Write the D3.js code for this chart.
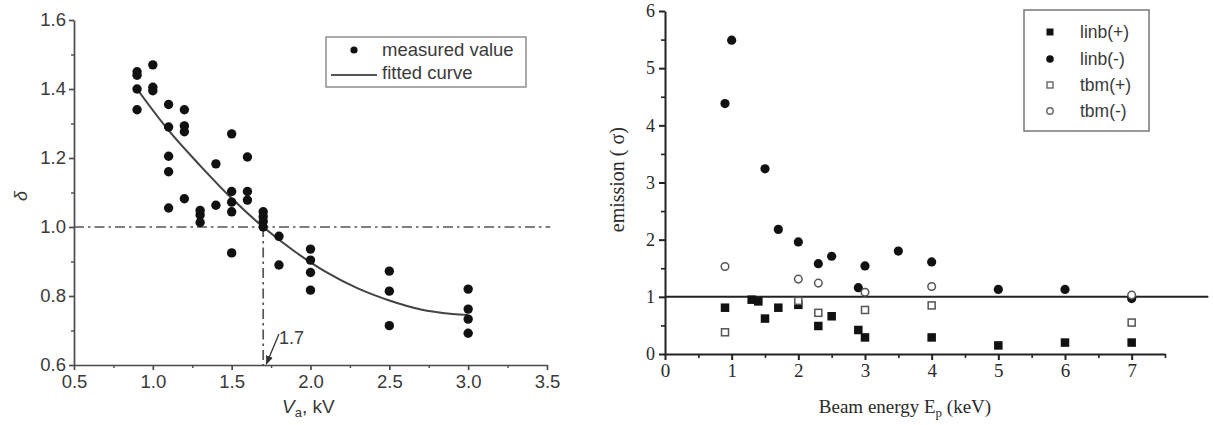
<!DOCTYPE html>
<html>
<head>
<meta charset="utf-8">
<script src="https://cdn.jsdelivr.net/npm/d3@7"></script>
<style>
  body { margin: 0; background: #fff; }
  svg { display: block; }
</style>
</head>
<body>
<svg id="fig" width="1213" height="425"></svg>
<script>
// ---------- Left panel: secondary emission yield vs. accelerating voltage ----------
const measuredVa = [0.9,0.9,0.9,0.9, 1.0,1.0,1.0, 1.1,1.1,1.1,1.1,1.1, 1.2,1.2,1.2,1.2,
  1.3,1.3,1.3, 1.4,1.4, 1.5,1.5,1.5,1.5,1.5, 1.6,1.6,1.6, 1.7,1.7,1.7,1.7, 1.8,1.8,
  2.0,2.0,2.0,2.0, 2.5,2.5,2.5, 3.0,3.0,3.0,3.0];
const measuredDelta = [1.45,1.44,1.40,1.34, 1.47,1.405,1.395, 1.355,1.29,1.205,1.16,1.055,
  1.34,1.293,1.276,1.082, 1.048,1.035,1.013, 1.183,1.063, 1.27,1.103,1.072,1.044,0.925,
  1.203,1.103,1.078, 1.044,1.03,1.016,1.0, 0.973,0.89, 0.936,0.904,0.868,0.817,
  0.872,0.814,0.714, 0.82,0.762,0.733,0.692];
const fitVa    = [0.9, 1.1, 1.3, 1.5, 1.7, 1.9, 2.1, 2.3, 2.5, 2.7, 2.9, 3.0];
const fitDelta = [1.40, 1.28, 1.178, 1.083, 1.0, 0.929, 0.869, 0.822, 0.787, 0.761, 0.748, 0.745];
const leftXTicks = [0.5, 1.0, 1.5, 2.0, 2.5, 3.0, 3.5];
const leftYTicks = [0.6, 0.8, 1.0, 1.2, 1.4, 1.6];
const crossoverVa = 1.7;
const unityYield = 1.0;

// ---------- Right panel: emission vs. beam energy ----------
const linbPlusE  = [0.9, 1.3, 1.4, 1.5, 1.7, 2.0, 2.3, 2.5, 2.9, 3.0, 4, 5, 6, 7];
const linbPlusY  = [0.81, 0.95, 0.92, 0.62, 0.81, 0.86, 0.49, 0.66, 0.42, 0.29, 0.29, 0.15, 0.2, 0.2];
const linbMinusE = [0.9, 1.0, 1.5, 1.7, 2.0, 2.3, 2.5, 2.9, 3.0, 3.5, 4, 5, 6, 7];
const linbMinusY = [4.38, 5.49, 3.24, 2.18, 1.96, 1.58, 1.71, 1.16, 1.54, 1.8, 1.61, 1.13, 1.13, 0.97];
const tbmPlusE   = [0.9, 2.0, 2.3, 3.0, 4, 7];
const tbmPlusY   = [0.38, 0.93, 0.72, 0.77, 0.85, 0.55];
const tbmMinusE  = [0.9, 2.0, 2.3, 3.0, 4, 7];
const tbmMinusY  = [1.53, 1.31, 1.24, 1.08, 1.18, 1.03];
const rightXTicks = [0, 1, 2, 3, 4, 5, 6, 7];
const rightYTicks = [0, 1, 2, 3, 4, 5, 6];
const seriesNames = ["linb(+)", "linb(-)", "tbm(+)", "tbm(-)"];
const referenceEmission = 1;

const svg = d3.select("#fig");

// ===== Left panel =====
const sansFont = "'Liberation Sans', Arial, sans-serif";
const serifFont = "'Liberation Serif', 'Times New Roman', serif";
const xL = d3.scaleLinear().domain([0.5, 3.5]).range([74, 547]);
const yL = d3.scaleLinear().domain([0.6, 1.6]).range([365, 20]);
const gL = svg.append("g");
const axisGrey = "#4a4a4a";
const textGrey = "#3a3a3a";

function styleAxis(sel, color, width, font, size, fill) {
  sel.select(".domain").attr("stroke", color).attr("stroke-width", width);
  sel.selectAll(".tick line").attr("stroke", color).attr("stroke-width", width);
  sel.selectAll("text").attr("font-family", font).attr("font-size", size).attr("fill", fill);
}

// minor ticks
gL.append("g").attr("transform", `translate(0,${yL(0.6)})`)
  .call(d3.axisBottom(xL).tickValues(d3.range(0.75, 3.5, 0.5)).tickSize(3).tickFormat(""))
  .call(s => { s.select(".domain").remove(); s.selectAll("line").attr("stroke", axisGrey).attr("stroke-width", 1.4); });
gL.append("g").attr("transform", `translate(${xL(0.5)},0)`)
  .call(d3.axisLeft(yL).tickValues(d3.range(0.7, 1.6, 0.2)).tickSize(3).tickFormat(""))
  .call(s => { s.select(".domain").remove(); s.selectAll("line").attr("stroke", axisGrey).attr("stroke-width", 1.4); });

// major axes
gL.append("g").attr("transform", `translate(0,${yL(0.6)})`)
  .call(d3.axisBottom(xL).tickValues(leftXTicks).tickSize(5).tickSizeOuter(0).tickPadding(5).tickFormat(d3.format(".1f")))
  .call(s => styleAxis(s, axisGrey, 1.7, sansFont, 18.5, textGrey));
gL.append("g").attr("transform", `translate(${xL(0.5)},0)`)
  .call(d3.axisLeft(yL).tickValues(leftYTicks).tickSize(5).tickSizeOuter(0).tickPadding(3).tickFormat(d3.format(".1f")))
  .call(s => styleAxis(s, axisGrey, 1.7, sansFont, 18.5, textGrey));

// dash-dot reference lines: delta = 1 and the crossover voltage
gL.append("line")
  .attr("x1", xL(0.5)).attr("x2", xL(3.52))
  .attr("y1", yL(unityYield)).attr("y2", yL(unityYield))
  .attr("stroke", "#555").attr("stroke-width", 1.7).attr("stroke-dasharray", "10,4,2.5,4");
gL.append("line")
  .attr("x1", xL(crossoverVa)).attr("x2", xL(crossoverVa))
  .attr("y1", yL(unityYield)).attr("y2", yL(0.6))
  .attr("stroke", "#555").attr("stroke-width", 1.7).attr("stroke-dasharray", "10,4,2.5,4");

// fitted curve
gL.append("path")
  .datum(fitVa.map((v, i) => [v, fitDelta[i]]))
  .attr("d", d3.line().x(d => xL(d[0])).y(d => yL(d[1])).curve(d3.curveCatmullRom))
  .attr("fill", "none").attr("stroke", "#444").attr("stroke-width", 2.1);

// measured points
gL.append("g").selectAll("circle")
  .data(measuredVa.map((v, i) => [v, measuredDelta[i]]))
  .join("circle")
  .attr("cx", d => xL(d[0])).attr("cy", d => yL(d[1])).attr("r", 4.7)
  .attr("fill", "#111");

// crossover annotation with arrow
svg.append("defs").append("marker")
  .attr("id", "arrowHead").attr("viewBox", "0 0 10 10")
  .attr("refX", 9).attr("refY", 5).attr("markerWidth", 7).attr("markerHeight", 7)
  .attr("orient", "auto")
  .append("path").attr("d", "M0,1 L10,5 L0,9 Z").attr("fill", "#333");
gL.append("line")
  .attr("x1", xL(1.80)).attr("y1", yL(0.69))
  .attr("x2", xL(1.72)).attr("y2", yL(0.603))
  .attr("stroke", "#333").attr("stroke-width", 1.3).attr("marker-end", "url(#arrowHead)");
gL.append("text")
  .attr("x", xL(1.80)).attr("y", yL(0.678)).attr("dy", "0.35em")
  .attr("font-family", sansFont).attr("font-size", 18).attr("fill", textGrey)
  .text(crossoverVa.toFixed(1));

// axis titles
gL.append("text")
  .attr("transform", `translate(21,${yL(1.09)}) rotate(-90)`)
  .attr("text-anchor", "middle").attr("dy", "0.35em")
  .attr("font-family", sansFont).attr("font-style", "italic").attr("font-size", 18).attr("fill", textGrey)
  .text("δ");
const vaLabel = gL.append("text")
  .attr("x", 282).attr("y", 413)
  .attr("font-family", sansFont).attr("font-size", 19).attr("fill", textGrey);
vaLabel.append("tspan").attr("font-style", "italic").text("V");
vaLabel.append("tspan").attr("font-size", 13).attr("dy", 4).text("a");
vaLabel.append("tspan").attr("dy", -4).text(", kV");

// legend
const legL = gL.append("g").attr("transform", "translate(326,37)");
legL.append("rect").attr("width", 200).attr("height", 50)
  .attr("fill", "#fff").attr("stroke", "#888").attr("stroke-width", 1.4);
legL.append("circle").attr("cx", 28).attr("cy", 13).attr("r", 3.6).attr("fill", "#111");
legL.append("line").attr("x1", 5).attr("x2", 51).attr("y1", 38).attr("y2", 38)
  .attr("stroke", "#555").attr("stroke-width", 2);
legL.append("text").attr("x", 56).attr("y", 13).attr("dy", "0.35em")
  .attr("font-family", sansFont).attr("font-size", 18.5).attr("fill", textGrey).text("measured value");
legL.append("text").attr("x", 56).attr("y", 36).attr("dy", "0.35em")
  .attr("font-family", sansFont).attr("font-size", 18.5).attr("fill", textGrey).text("fitted curve");

// ===== Right panel =====
const xR = d3.scaleLinear().domain([0, 7.5]).range([665, 1165]);
const yR = d3.scaleLinear().domain([0, 6]).range([354, 11]);
const gR = svg.append("g");

gR.append("g").attr("transform", `translate(0,${yR(0)})`)
  .call(d3.axisBottom(xR).tickValues(d3.range(0.5, 7.6, 1)).tickSize(4).tickFormat(""))
  .call(s => { s.select(".domain").remove(); s.selectAll("line").attr("stroke", "#222").attr("stroke-width", 1.6); });
gR.append("g").attr("transform", `translate(${xR(0)},0)`)
  .call(d3.axisLeft(yR).tickValues(d3.range(0.5, 6, 1)).tickSize(4).tickFormat(""))
  .call(s => { s.select(".domain").remove(); s.selectAll("line").attr("stroke", "#222").attr("stroke-width", 1.6); });

gR.append("g").attr("transform", `translate(0,${yR(0)})`)
  .call(d3.axisBottom(xR).tickValues(rightXTicks).tickSize(6).tickSizeOuter(0).tickPadding(4).tickFormat(d3.format("d")))
  .call(s => styleAxis(s, "#222", 2, serifFont, 19, "#2a2a2a"));
gR.append("g").attr("transform", `translate(${xR(0)},0)`)
  .call(d3.axisLeft(yR).tickValues(rightYTicks).tickSize(6).tickSizeOuter(0).tickPadding(4).tickFormat(d3.format("d")))
  .call(s => styleAxis(s, "#222", 2, serifFont, 18, "#2a2a2a"));

// emission = 1 reference line
gR.append("line")
  .attr("x1", xR(0)).attr("x2", xR(8.15))
  .attr("y1", yR(referenceEmission)).attr("y2", yR(referenceEmission))
  .attr("stroke", "#222").attr("stroke-width", 2);

const pts = (E, Y) => E.map((e, i) => [e, Y[i]]);
const sq = 8.5, osq = 7;
gR.append("g").selectAll("rect")
  .data(pts(linbPlusE, linbPlusY)).join("rect")
  .attr("x", d => xR(d[0]) - sq / 2).attr("y", d => yR(d[1]) - sq / 2)
  .attr("width", sq).attr("height", sq).attr("fill", "#111");
gR.append("g").selectAll("circle")
  .data(pts(linbMinusE, linbMinusY)).join("circle")
  .attr("cx", d => xR(d[0])).attr("cy", d => yR(d[1])).attr("r", 4.6).attr("fill", "#111");
gR.append("g").selectAll("rect")
  .data(pts(tbmPlusE, tbmPlusY)).join("rect")
  .attr("x", d => xR(d[0]) - osq / 2).attr("y", d => yR(d[1]) - osq / 2)
  .attr("width", osq).attr("height", osq).attr("fill", "#fff")
  .attr("stroke", "#555").attr("stroke-width", 1.5);
gR.append("g").selectAll("circle")
  .data(pts(tbmMinusE, tbmMinusY)).join("circle")
  .attr("cx", d => xR(d[0])).attr("cy", d => yR(d[1])).attr("r", 3.8).attr("fill", "#fff")
  .attr("stroke", "#555").attr("stroke-width", 1.5);

// axis titles
gR.append("text")
  .attr("transform", `translate(617,${yR(3.05)}) rotate(-90)`)
  .attr("text-anchor", "middle").attr("dy", "0.35em")
  .attr("font-family", serifFont).attr("font-size", 20).attr("fill", "#2a2a2a")
  .text("emission ( σ)");
const beLabel = gR.append("text")
  .attr("x", xR(3.6)).attr("y", 413).attr("text-anchor", "middle")
  .attr("font-family", serifFont).attr("font-size", 19).attr("fill", "#2a2a2a");
beLabel.append("tspan").text("Beam energy E");
beLabel.append("tspan").attr("font-size", 13).attr("dy", 4).text("p");
beLabel.append("tspan").attr("dy", -4).text(" (keV)");

// legend
const legR = gR.append("g").attr("transform", "translate(1024,10)");
legR.append("rect").attr("width", 125).attr("height", 121)
  .attr("fill", "#fff").attr("stroke", "#777").attr("stroke-width", 1.5);
const rowY = [22, 49, 75, 101];
seriesNames.forEach((name, i) => {
  const cx = 26, cy = rowY[i];
  if (i === 0) legR.append("rect").attr("x", cx - 3.5).attr("y", cy - 3.5).attr("width", 7).attr("height", 7).attr("fill", "#111");
  if (i === 1) legR.append("circle").attr("cx", cx).attr("cy", cy).attr("r", 3.8).attr("fill", "#111");
  if (i === 2) legR.append("rect").attr("x", cx - 3).attr("y", cy - 3).attr("width", 6).attr("height", 6)
    .attr("fill", "#fff").attr("stroke", "#666").attr("stroke-width", 1.4);
  if (i === 3) legR.append("circle").attr("cx", cx).attr("cy", cy).attr("r", 3.2)
    .attr("fill", "#fff").attr("stroke", "#666").attr("stroke-width", 1.4);
  legR.append("text").attr("x", 56).attr("y", cy).attr("dy", "0.35em")
    .attr("font-family", sansFont).attr("font-size", 17.5).attr("fill", textGrey).text(name);
});
</script>
</body>
</html>
